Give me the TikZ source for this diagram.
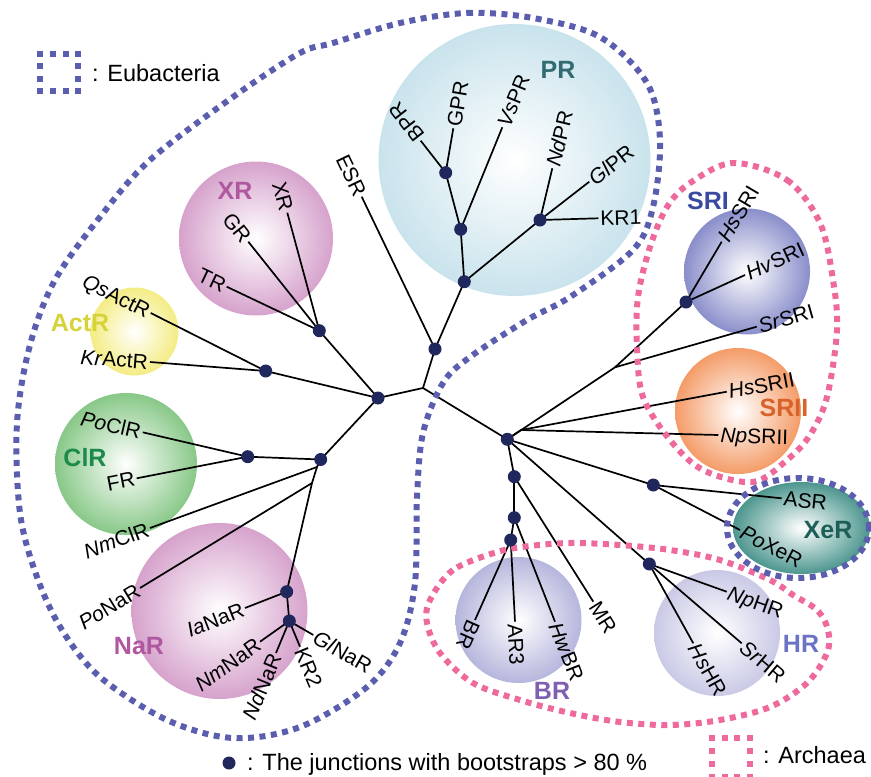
\documentclass[tikz,border=0pt]{standalone}
\usepackage{fontspec}
\setmainfont{Liberation Sans}
\usetikzlibrary{shapes.geometric}
\definecolor{eub}{HTML}{5B5EAE}
\definecolor{arc}{HTML}{EE6A9C}
\definecolor{jdot}{HTML}{1F275C}
\definecolor{cPR}{HTML}{C9E3EC}
\definecolor{cXR}{HTML}{D6A2CC}
\definecolor{cAct}{HTML}{F4EC84}
\definecolor{cCl}{HTML}{88C888}
\definecolor{cNa}{HTML}{D6A2CC}
\definecolor{cSRI}{HTML}{8A8ECA}
\definecolor{cSRII}{HTML}{F49C68}
\definecolor{cXe}{HTML}{4C968E}
\definecolor{cBR}{HTML}{B5B6DC}
\definecolor{cHR}{HTML}{C9C9E6}
\definecolor{tPR}{HTML}{336B73}
\definecolor{tXR}{HTML}{B0589F}
\definecolor{tAct}{HTML}{D6D23A}
\definecolor{tCl}{HTML}{1B8A4A}
\definecolor{tSRI}{HTML}{3A4AA0}
\definecolor{tSRII}{HTML}{D8632A}
\definecolor{tXe}{HTML}{1E5E58}
\definecolor{tBR}{HTML}{7F5FB0}
\definecolor{tHR}{HTML}{6B74C4}
\tikzset{
  branch/.style={line width=1.7pt, black},
  jn/.style={circle, fill=jdot, inner sep=0pt, minimum size=13pt},
  lbl/.style={font=\fontsize{21}{22}\selectfont, inner sep=2pt, text height=15pt, text depth=0pt},
  grp/.style={font=\fontsize{25}{26}\selectfont\bfseries, inner sep=0pt},
  legtext/.style={font=\fontsize{23.5}{25}\selectfont, inner sep=0pt},
  eubline/.style={draw=eub, line width=6pt, dash pattern=on 6pt off 5.5pt},
  arcline/.style={draw=arc, line width=6pt, dash pattern=on 6pt off 5.5pt},
}
\begin{document}
\begin{tikzpicture}[x=1pt,y=-1pt]
\useasboundingbox (0,0) rectangle (871,777);
% ---------- spheres ----------
\shade[inner color=white, outer color=cPR] (514.5,160) circle (136pt);
\shade[inner color=white, outer color=cXR] (256,238.5) circle (77pt);
\shade[inner color=white, outer color=cAct] (134.5,331.5) circle (44pt);
\shade[inner color=white, outer color=cCl] (126,464) circle (71pt);
\shade[inner color=white, outer color=cNa] (219.5,611) circle (88pt);
\shade[inner color=white, outer color=cSRI] (747,271.5) circle (63pt);
\shade[inner color=white, outer color=cSRII] (738,411) circle (63pt);
\shade[inner color=white, outer color=cBR] (518.5,620) circle (63pt);
\shade[inner color=white, outer color=cHR] (717,633) circle (63pt);
\shade[inner color=white, outer color=cXe] (801.5,528) ellipse [x radius=68.5pt, y radius=46pt];
% ---------- coordinates ----------
\coordinate (root) at (423,388);
\coordinate (jE) at (435,349);
\coordinate (jA) at (378,398);
\coordinate (jArc) at (507.3,439.3);
\coordinate (jP1) at (464.3,281.7);
\coordinate (jP2) at (460.7,229.3);
\coordinate (jP3) at (445.7,172.7);
\coordinate (jP4) at (540,220);
\coordinate (jXR) at (319.3,330.7);
\coordinate (jAct) at (265.7,371);
\coordinate (jCl) at (320.7,459.5);
\coordinate (jCl2) at (247.7,456.7);
\coordinate (b1) at (317,467);
\coordinate (b2) at (312,483);
\coordinate (jN1) at (286.7,591.7);
\coordinate (jN2) at (289.3,621);
\coordinate (bSR) at (615,367.3);
\coordinate (jSRI) at (686,302);
\coordinate (bSRII) at (521,430);
\coordinate (jXe) at (653.3,485);
\coordinate (jHR) at (649.3,564);
\coordinate (jB1) at (514.3,476.7);
\coordinate (jB2) at (514.3,517.7);
\coordinate (jB3) at (510.7,540);
% leaves
\coordinate (lESR) at (361.7,196.7);
\coordinate (lBPR) at (420.7,140.7);
\coordinate (lGPR) at (453.3,128.3);
\coordinate (lVsPR) at (502.3,127.3);
\coordinate (lNdPR) at (552.3,168.3);
\coordinate (lGlPR) at (589.3,181.7);
\coordinate (lKR1) at (598.3,218.3);
\coordinate (lXR) at (287.3,212.7);
\coordinate (lGR) at (248.3,241.7);
\coordinate (lTR) at (226.7,286.7);
\coordinate (lQs) at (150.7,313);
\coordinate (lKr) at (150,362);
\coordinate (lPoCl) at (142.7,432.3);
\coordinate (lFR) at (136.7,478.3);
\coordinate (lNmCl) at (150,528);
\coordinate (lPoNa) at (140,588);
\coordinate (lIa) at (245,608);
\coordinate (lNmNa) at (260,641.7);
\coordinate (lNdNa) at (276,653);
\coordinate (lKR2) at (300,646.7);
\coordinate (lGlNa) at (313.3,635);
\coordinate (lHsSRI) at (721.7,241.7);
\coordinate (lHvSRI) at (745,275);
\coordinate (lSrSRI) at (756.7,326.7);
\coordinate (lHsSRII) at (726.7,391.7);
\coordinate (lNpSRII) at (718.3,435);
\coordinate (lASR) at (781.7,498.3);
\coordinate (lPoXe) at (740,530);
\coordinate (lNpHR) at (726.7,591.7);
\coordinate (lSrHR) at (741.7,643.3);
\coordinate (lHsHR) at (693.3,643.3);
\coordinate (lMR) at (593.3,601.7);
\coordinate (lHwBR) at (555,621.7);
\coordinate (lAR3) at (515,621.7);
\coordinate (lBR) at (475,620);
% ---------- branches ----------
\draw[branch] (root) -- (jA);
\draw[branch] (root) -- (jE);
\draw[branch] (root) -- (jArc);
\draw[branch] (jE) -- (lESR);
\draw[branch] (jE) -- (jP1);
\draw[branch] (jP1) -- (jP2);
\draw[branch] (jP1) -- (jP4);
\draw[branch] (jP2) -- (jP3);
\draw[branch] (jP2) -- (lVsPR);
\draw[branch] (jP3) -- (lBPR);
\draw[branch] (jP3) -- (lGPR);
\draw[branch] (jP4) -- (lNdPR);
\draw[branch] (jP4) -- (lGlPR);
\draw[branch] (jP4) -- (lKR1);
\draw[branch] (jA) -- (jXR);
\draw[branch] (jA) -- (jAct);
\draw[branch] (jA) -- (jCl);
\draw[branch] (jXR) -- (lXR);
\draw[branch] (jXR) -- (lGR);
\draw[branch] (jXR) -- (lTR);
\draw[branch] (jAct) -- (lQs);
\draw[branch] (jAct) -- (lKr);
\draw[branch] (jCl) -- (jCl2);
\draw[branch] (jCl2) -- (lPoCl);
\draw[branch] (jCl2) -- (lFR);
\draw[branch] (jCl) -- (b1);
\draw[branch] (b1) -- (lNmCl);
\draw[branch] (b1) -- (b2);
\draw[branch] (b2) -- (lPoNa);
\draw[branch] (b2) -- (jN1);
\draw[branch] (jN1) -- (lIa);
\draw[branch] (jN1) -- (jN2);
\draw[branch] (jN2) -- (lNmNa);
\draw[branch] (jN2) -- (lNdNa);
\draw[branch] (jN2) -- (lKR2);
\draw[branch] (jN2) -- (lGlNa);
\draw[branch] (jArc) -- (bSR);
\draw[branch] (bSR) -- (jSRI);
\draw[branch] (bSR) -- (lSrSRI);
\draw[branch] (jSRI) -- (lHsSRI);
\draw[branch] (jSRI) -- (lHvSRI);
\draw[branch] (jArc) -- (bSRII);
\draw[branch] (bSRII) -- (lHsSRII);
\draw[branch] (bSRII) -- (lNpSRII);
\draw[branch] (jArc) -- (jXe);
\draw[branch] (jXe) -- (lASR);
\draw[branch] (jXe) -- (lPoXe);
\draw[branch] (jArc) -- (jHR);
\draw[branch] (jHR) -- (lNpHR);
\draw[branch] (jHR) -- (lSrHR);
\draw[branch] (jHR) -- (lHsHR);
\draw[branch] (jArc) -- (jB1);
\draw[branch] (jB1) -- (lMR);
\draw[branch] (jB1) -- (jB2);
\draw[branch] (jB2) -- (lHwBR);
\draw[branch] (jB2) -- (jB3);
\draw[branch] (jB3) -- (lBR);
\draw[branch] (jB3) -- (lAR3);
% ---------- boundaries ----------
\draw[eubline] plot[smooth cycle, tension=0.55] coordinates {
 (400,23) (467,13) (533,18) (600,37) (647,83) (660,140) (653,207) (633,250)
 (570,297) (527,320) (470,357) (443,383) (423,433) (417,497) (415,583)
 (400,643) (367,687) (300,727) (233,738) (167,720) (100,677) (62,630) (37,577)
 (20,513) (17,423) (30,345) (55,280) (100,217) (150,160) (233,97) (300,53) (333,43)};
\draw[arcline] plot[smooth cycle, tension=0.55] coordinates {
 (733,163) (787,180) (820,223) (833,280) (837,330) (827,397) (810,435)
 (787,460) (753,482) (703,470) (670,440) (643,397) (637,347) (638,297)
 (650,247) (667,207) (690,183)};
\draw[arcline] plot[smooth cycle, tension=0.55] coordinates {
 (497,552) (453,570) (430,600) (427,623) (440,653) (473,683) (520,700)
 (570,713) (620,722) (670,725) (720,720) (770,707) (807,683) (827,653)
 (828,630) (817,610) (793,595) (770,580) (720,560) (670,550) (620,545)
 (570,543) (530,546)};
\draw[eubline] (798,528) ellipse [x radius=71pt, y radius=50pt];
% ---------- junction dots ----------
\foreach \j in {jE,jA,jArc,jP1,jP2,jP3,jP4,jXR,jAct,jCl,jCl2,jN1,jN2,jSRI,jXe,jHR,jB1,jB2,jB3}
  \node[jn] (d\j) at (\j) {};
% ---------- leaf labels ----------
\node[lbl, anchor=east, rotate=-64.3] (tESR) at (lESR) {ESR};
\node[lbl, anchor=west, rotate=128] (tBPR) at (lBPR) {BPR};
\node[lbl, anchor=west, rotate=80.3] (tGPR) at (lGPR) {GPR};
\node[lbl, anchor=west, rotate=67.8] (tVsPR) at (lVsPR) {\textit{Vs}PR};
\node[lbl, anchor=west, rotate=76.6] (tNdPR) at (lNdPR) {\textit{Nd}PR};
\node[lbl, anchor=west, rotate=37.8] (tGlPR) at (lGlPR) {\textit{Gl}PR};
\node[lbl, anchor=west, rotate=1.7] (tKR1) at (lKR1) {KR1};
\node[lbl, anchor=east, rotate=-75] (tXR) at (lXR) {XR};
\node[lbl, anchor=east, rotate=-51.4] (tGR) at (lGR) {GR};
\node[lbl, anchor=east, rotate=-25.4] (tTR) at (lTR) {TR};
\node[lbl, anchor=east, rotate=-26.8] (tQs) at (lQs) {\textit{Qs}ActR};
\node[lbl, anchor=east, rotate=-4.4] (tKr) at (lKr) {\textit{Kr}ActR};
\node[lbl, anchor=east, rotate=-13] (tPoCl) at (lPoCl) {\textit{Po}ClR};
\node[lbl, anchor=east, rotate=11] (tFR) at (lFR) {FR};
\node[lbl, anchor=east, rotate=20.2] (tNmCl) at (lNmCl) {\textit{Nm}ClR};
\node[lbl, anchor=east, rotate=31.4] (tPoNa) at (lPoNa) {\textit{Po}NaR};
\node[lbl, anchor=east, rotate=21.4] (tIa) at (lIa) {\textit{Ia}NaR};
\node[lbl, anchor=east, rotate=35.2] (tNmNa) at (lNmNa) {\textit{Nm}NaR};
\node[lbl, anchor=east, rotate=67.4] (tNdNa) at (lNdNa) {\textit{Nd}NaR};
\node[lbl, anchor=west, rotate=-67.4] (tKR2) at (lKR2) {KR2};
\node[lbl, anchor=west, rotate=-30] (tGlNa) at (lGlNa) {\textit{Gl}NaR};
\node[lbl, anchor=west, rotate=59.4] (tHsSRI) at (lHsSRI) {\textit{Hs}SRI};
\node[lbl, anchor=west, rotate=24.6] (tHvSRI) at (lHvSRI) {\textit{Hv}SRI};
\node[lbl, anchor=west, rotate=16] (tSrSRI) at (lSrSRI) {\textit{Sr}SRI};
\node[lbl, anchor=west, rotate=10.5] (tHsSRII) at (lHsSRII) {\textit{Hs}SRII};
\node[lbl, anchor=west, rotate=-1.5] (tNpSRII) at (lNpSRII) {\textit{Np}SRII};
\node[lbl, anchor=west, rotate=-5.9] (tASR) at (lASR) {ASR};
\node[lbl, anchor=west, rotate=-27.4] (tPoXe) at (lPoXe) {\textit{Po}XeR};
\node[lbl, anchor=west, rotate=-19.7] (tNpHR) at (lNpHR) {\textit{Np}HR};
\node[lbl, anchor=west, rotate=-40.6] (tSrHR) at (lSrHR) {\textit{Sr}HR};
\node[lbl, anchor=west, rotate=-61] (tHsHR) at (lHsHR) {\textit{Hs}HR};
\node[lbl, anchor=west, rotate=-57.7] (tMR) at (lMR) {MR};
\node[lbl, anchor=west, rotate=-68.6] (tHwBR) at (lHwBR) {\textit{Hw}BR};
\node[lbl, anchor=west, rotate=-87] (tAR3) at (lAR3) {AR3};
\node[lbl, anchor=west, rotate=-114] (tBR) at (lBR) {BR};
% ---------- group labels ----------
\node[grp, text=tPR] (gPR) at (558,70) {PR};
\node[grp, text=tXR] (gXR) at (235,191) {XR};
\node[grp, text=tAct] (gAct) at (80,323) {ActR};
\node[grp, text=tCl] (gCl) at (85,458) {ClR};
\node[grp, text=tXR] (gNa) at (139,646) {NaR};
\node[grp, text=tSRI] (gSRI) at (708,201) {SRI};
\node[grp, text=tSRII] (gSRII) at (784,408) {SRII};
\node[grp, text=tXe] (gXe) at (828,530) {XeR};
\node[grp, text=tBR] (gBR) at (552,691) {BR};
\node[grp, text=tHR] (gHR) at (801,644) {HR};
% ---------- legends ----------
\foreach \a/\b in {0/0,1/0,2/0,3/0,0/1,3/1,0/2,3/2,0/3,1/3,2/3,3/3}
  \fill[eub] ({40.3+12.67*\a-3},{54+12.33*\b-3}) rectangle ++(6,6);
\node[legtext, anchor=base west] (legE) at (92,81.7) {: Eubacteria};
\foreach \a/\b in {0/0,1/0,2/0,3/0,0/1,3/1,0/2,3/2,0/3,1/3,2/3,3/3}
  \fill[arc] ({711.7+12.8*\a-3},{738.3+13*\b-3}) rectangle ++(6,6);
\node[legtext, anchor=base west] (legA) at (763,763) {: Archaea};
\node[jn] (legdot) at (229,763) {};
\node[legtext, anchor=base west] (legJ) at (247,770) {: The junctions with bootstraps > 80 \%};
\end{tikzpicture}
\end{document}
